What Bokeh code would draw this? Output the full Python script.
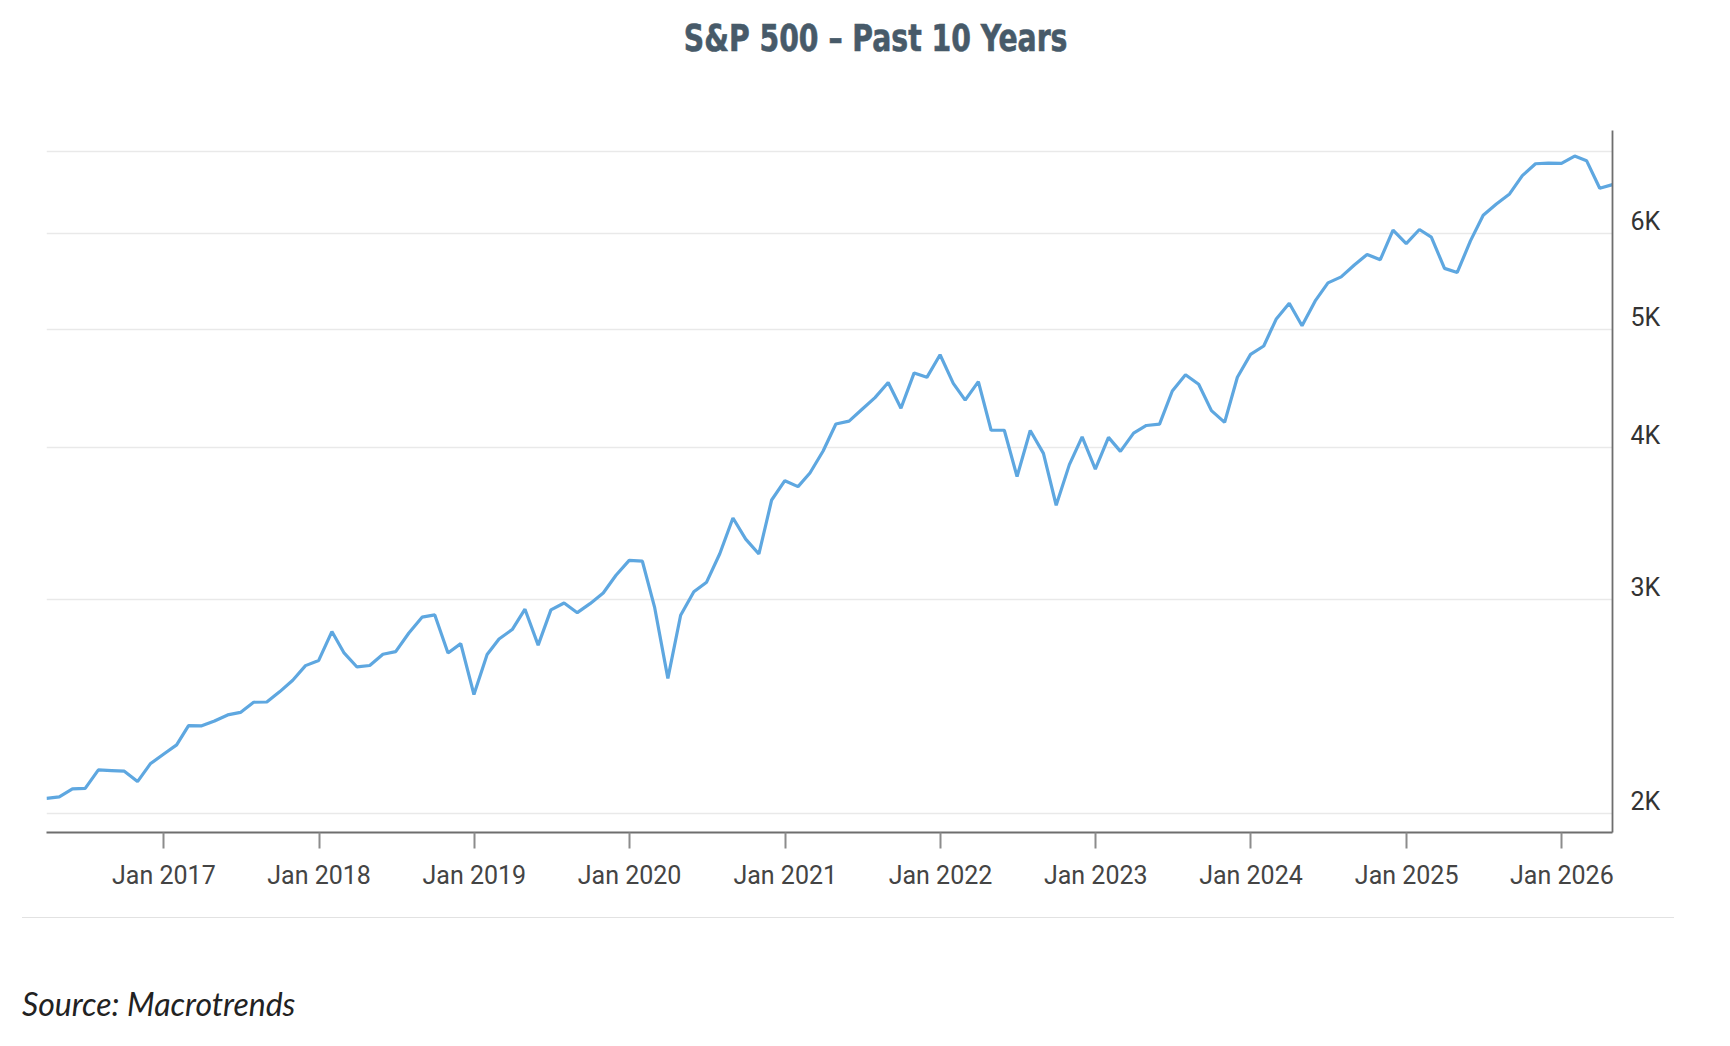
import html
import pandas as pd
from bokeh.plotting import figure
from bokeh.models import (Range1d, FixedTicker, DatetimeTickFormatter, LogAxis, LogScale,
                          ColumnDataSource, Div)
from bokeh.layouts import column
from bokeh.embed import file_html
from bokeh.resources import INLINE

title_text = "S&P 500 – Past 10 Years"
source_text = "Source: Macrotrends"

# Month-end closes (Mar 2016 .. Apr 2026)
close_2016 = [2059.74, 2065.30, 2096.95, 2098.86, 2173.60, 2170.95, 2168.27, 2126.15, 2198.81, 2238.83]
close_2017 = [2278.87, 2363.64, 2362.72, 2384.20, 2411.80, 2423.41, 2470.30, 2471.65, 2519.36, 2575.26, 2647.58, 2673.61]
close_2018 = [2823.81, 2713.83, 2640.87, 2648.05, 2705.27, 2718.37, 2816.29, 2901.52, 2913.98, 2711.74, 2760.17, 2506.85]
close_2019 = [2704.10, 2784.49, 2834.40, 2945.83, 2752.06, 2941.76, 2980.38, 2926.46, 2976.74, 3037.56, 3140.98, 3230.78]
close_2020 = [3225.52, 2954.22, 2584.59, 2912.43, 3044.31, 3100.29, 3271.12, 3500.31, 3363.00, 3269.96, 3621.63, 3756.07]
close_2021 = [3714.24, 3811.15, 3972.89, 4181.17, 4204.11, 4297.50, 4395.26, 4522.68, 4307.54, 4605.38, 4567.00, 4766.18]
close_2022 = [4515.55, 4373.94, 4530.41, 4131.93, 4132.15, 3785.38, 4130.29, 3955.00, 3585.62, 3871.98, 4080.11, 3839.50]
close_2023 = [4076.60, 3970.15, 4109.31, 4169.48, 4179.83, 4450.38, 4588.96, 4507.66, 4288.05, 4193.80, 4567.80, 4769.83]
close_2024 = [4845.65, 5096.27, 5254.35, 5035.69, 5277.51, 5460.48, 5522.30, 5648.40, 5762.48, 5705.45, 6032.38, 5881.63]
close_2025 = [6040.53, 5954.50, 5611.85, 5569.06, 5911.69, 6204.95, 6339.39, 6460.26, 6688.46, 6840.20, 6849.09, 6845.50]
close_2026 = [6940.0, 6880.0, 6530.0, 6575.0]

closes = (close_2016 + close_2017 + close_2018 + close_2019 + close_2020 + close_2021
          + close_2022 + close_2023 + close_2024 + close_2025 + close_2026)
dates = pd.date_range("2016-04-01", periods=len(closes), freq="MS") - pd.Timedelta(days=1)

y_grid_ticks = [2000, 3000, 4000, 5000, 6000, 7000]
y_label_ticks = [2000, 3000, 4000, 5000, 6000]
y_tick_labels = ["2K", "3K", "4K", "5K", "6K"]
x_tick_years = [2017, 2018, 2019, 2020, 2021, 2022, 2023, 2024, 2025, 2026]

x_ticks = [pd.Timestamp(f"{yr}-01-01").value / 1e6 for yr in x_tick_years]
x_start = dates[0].value / 1e6
x_end = dates[-1].value / 1e6
y_min, y_max = 1931, 7284

W = 1714
frame_top, frame_bottom = 40, 68
plot_h = 810
frame_h = plot_h - frame_top - frame_bottom

src = ColumnDataSource(dict(date=dates, close=closes))

p = figure(width=W, height=plot_h, x_axis_type="datetime", y_axis_type="log",
           y_axis_location=None, output_backend="svg", toolbar_location=None,
           x_range=Range1d(x_start, x_end), y_range=Range1d(y_min, y_max),
           min_border_left=46, min_border_right=102,
           min_border_top=frame_top, min_border_bottom=frame_bottom)
p.outline_line_color = None
p.background_fill_color = "white"
p.border_fill_color = "white"

p.line("date", "close", source=src, line_color="#5ea7e0", line_width=3.2)

xa = p.xaxis[0]
xa.ticker = FixedTicker(ticks=x_ticks)
xa.formatter = DatetimeTickFormatter(years="%b %Y", months="%b %Y", days="%b %Y")
xa.major_tick_out = 16
xa.major_tick_in = 0
xa.minor_tick_out = 0
xa.minor_tick_in = 0
xa.axis_line_color = "#6e6e6e"
xa.axis_line_width = 1.8
xa.major_tick_line_color = "#8c8c8c"
xa.major_tick_line_width = 2
xa.major_label_text_font = "Roboto"
xa.major_label_text_font_size = "25px"
xa.major_label_text_color = "#444444"
xa.major_label_standoff = 12
p.xgrid.visible = False

p.ygrid[0].ticker = FixedTicker(ticks=y_grid_ticks)
p.ygrid[0].grid_line_color = "#e9e9e9"
p.ygrid[0].grid_line_width = 1.5

# labels sit a little above their gridlines: a shifted copy of the y range
label_shift_px = 12
k = (y_max / y_min) ** (label_shift_px / frame_h)
p.extra_y_ranges = {"lbl": Range1d(y_min / k, y_max / k)}
p.extra_y_scales = {"lbl": LogScale()}
ya = LogAxis(y_range_name="lbl", ticker=FixedTicker(ticks=y_label_ticks),
             major_label_overrides=dict(zip(y_label_ticks, y_tick_labels)))
ya.major_tick_out = 0
ya.major_tick_in = 0
ya.minor_tick_out = 0
ya.minor_tick_in = 0
ya.axis_line_color = "#6e6e6e"
ya.axis_line_width = 1.8
ya.major_label_standoff = 18
ya.major_label_text_font = "Roboto"
ya.major_label_text_font_size = "25px"
ya.major_label_text_color = "#333333"
p.add_layout(ya, "right")

title_html = (
    '<div style="padding-top:20px;width:1752px;text-align:center;white-space:nowrap;">'
    '<span style="display:inline-block;transform:scaleX(0.85);transform-origin:50% 50%;'
    "font-family:'Liberation Sans Narrow','DejaVu Sans Condensed','Roboto Condensed',sans-serif;"
    'font-weight:bold;font-size:37px;line-height:37px;color:#475a69;'
    '-webkit-text-stroke:0.6px #475a69;">'
    + html.escape(title_text) + "</span></div>"
)
title_div = Div(text=title_html, width=W, height=90, margin=(0, 0, 0, 0))

foot_html = (
    '<div style="padding-top:17px;">'
    '<div style="margin-left:22px;width:1652px;height:0;border-top:1.5px solid #e2e2e2;"></div>'
    '<div style="padding-top:70px;padding-left:22px;font-family:Lato,sans-serif;font-style:italic;'
    'font-size:32px;line-height:32px;color:#222222;white-space:nowrap;">'
    + html.escape(source_text) + "</div></div>"
)
foot_div = Div(text=foot_html, width=W, height=138, margin=(0, 0, 0, 0))

layout = column(title_div, p, foot_div, spacing=0)
open("out.html", "w").write(file_html(layout, INLINE))
